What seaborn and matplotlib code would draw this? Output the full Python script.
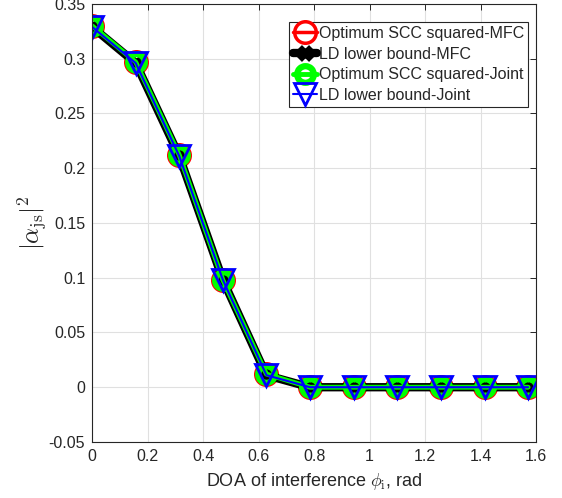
import numpy as np
import pandas as pd
import matplotlib
matplotlib.use("Agg")
import matplotlib.pyplot as plt
import seaborn as sns

doa = [0.0, 0.157, 0.314, 0.471, 0.628, 0.785, 0.942, 1.100, 1.257, 1.414, 1.571]
scc_mfc = [0.330, 0.297, 0.212, 0.098, 0.012, 0.0, 0.0, 0.0, 0.0, 0.0, 0.0]
ld_mfc = [0.329, 0.296, 0.211, 0.098, 0.011, 0.0, 0.0, 0.0, 0.0, 0.0, 0.0]
scc_joint = [0.330, 0.297, 0.212, 0.098, 0.012, 0.0, 0.0, 0.0, 0.0, 0.0, 0.0]
ld_joint = [0.329, 0.296, 0.211, 0.098, 0.011, 0.0, 0.0, 0.0, 0.0, 0.0, 0.0]
series_names = ["Optimum SCC squared-MFC", "LD lower bound-MFC",
                "Optimum SCC squared-Joint", "LD lower bound-Joint"]
xticks = [0, 0.2, 0.4, 0.6, 0.8, 1.0, 1.2, 1.4, 1.6]
yticks = [-0.05, 0, 0.05, 0.1, 0.15, 0.2, 0.25, 0.3, 0.35]

sns.set_style("white")
plt.rcParams['font.family'] = ['Liberation Sans', 'DejaVu Sans']
plt.rcParams['mathtext.fontset'] = 'cm'

fig = plt.figure(figsize=(5.62, 4.98), dpi=100)
ax = fig.add_axes([0.164, 0.1125, 0.790, 0.8795])

styles = [
    dict(color="#ff0000", marker="o", markersize=15.5, markeredgewidth=2.5,
         markerfacecolor="none", markeredgecolor="#ff0000", linewidth=2.5),
    dict(color="#000000", marker="x", markersize=9, markeredgewidth=5.0,
         markeredgecolor="#000000", linewidth=6.0),
    dict(color="#00ff00", marker="o", markersize=12, markeredgewidth=4.5,
         markerfacecolor="none", markeredgecolor="#00ff00", linewidth=3.5),
    dict(color="#0000ff", marker="v", markersize=16, markeredgewidth=2.0,
         markerfacecolor="none", markeredgecolor="#0000ff", linewidth=1.5),
]
for name, vals, st in zip(series_names, [scc_mfc, ld_mfc, scc_joint, ld_joint], styles):
    df = pd.DataFrame({"x": doa, "y": vals})
    sns.lineplot(data=df, x="x", y="y", ax=ax, label=name, linestyle="-", **st)

ax.set_xlim(0, 1.6)
ax.set_ylim(-0.05, 0.35)
ax.set_xticks(xticks)
ax.set_xticklabels(["0", "0.2", "0.4", "0.6", "0.8", "1", "1.2", "1.4", "1.6"])
ax.set_yticks(yticks)
ax.set_yticklabels(["-0.05", "0", "0.05", "0.1", "0.15", "0.2", "0.25", "0.3", "0.35"])
ax.grid(True, color="#e0e0e0", linewidth=0.8)
ax.tick_params(direction="in", top=True, right=True, length=4, width=0.7,
               colors="#262626", labelsize=11.5, pad=5)
for sp in ax.spines.values():
    sp.set_visible(True)
    sp.set_color("#262626")
    sp.set_linewidth(0.8)

ax.set_xlabel(r"DOA of interference $\phi_{\rm i}$, rad", fontsize=13, color="#262626",
              labelpad=5)
ax.set_ylabel(r"$|\alpha_{\rm js}|^2$", fontsize=18, color="#262626", labelpad=0)

leg = ax.legend(loc="upper right", bbox_to_anchor=(0.982, 0.959), fontsize=11.5,
                frameon=True, fancybox=False, framealpha=1, edgecolor="#262626",
                borderpad=0.25, labelspacing=0.35, handlelength=1.5,
                handletextpad=0.1, borderaxespad=0.0)
leg.get_frame().set_linewidth(0.8)

fig.savefig("out.png", dpi=100)
